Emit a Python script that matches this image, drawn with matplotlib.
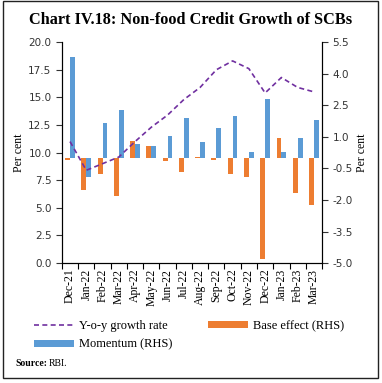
import matplotlib
matplotlib.use("Agg")
import matplotlib.pyplot as plt
import matplotlib.patches as patches
import numpy as np

months = ["Dec-21", "Jan-22", "Feb-22", "Mar-22", "Apr-22", "May-22", "Jun-22", "Jul-22",
          "Aug-22", "Sep-22", "Oct-22", "Nov-22", "Dec-22", "Jan-23", "Feb-23", "Mar-23"]
yoy = [11.0, 8.4, 9.0, 9.6, 11.0, 12.3, 13.4, 14.8, 15.9, 17.5, 18.3, 17.6, 15.4, 16.8, 15.9, 15.5]
base_effect = [-0.08, -1.53, -0.77, -1.79, 0.79, 0.58, -0.13, -0.68,
               0.03, -0.11, -0.77, -0.90, -4.79, 0.95, -1.66, -2.24]
momentum = [4.79, -0.90, 1.66, 2.26, 0.65, 0.58, 1.03, 1.90,
            0.76, 1.42, 1.97, 0.28, 2.78, 0.28, 0.95, 1.80]

serif = "Liberation Serif"
blue = "#5B9BD5"
orange = "#ED7D31"
purple = "#7030A0"

fig = plt.figure(figsize=(3.82, 3.83), dpi=100)
ax = fig.add_axes([0.162, 0.313, 0.681, 0.577])
ax2 = ax.twinx()

x = np.arange(len(months))
w = 0.3
ax2.bar(x - w / 2, base_effect, w, color=orange, label="Base effect (RHS)")
ax2.bar(x + w / 2, momentum, w, color=blue, label="Momentum (RHS)")
ax2.set_ylim(-5.0, 5.5)
ax2.set_yticks(np.arange(-5.0, 5.6, 1.5))
ax2.set_yticklabels(["%.1f" % v for v in np.arange(-5.0, 5.6, 1.5)])

ax.plot(x, yoy, color=purple, linestyle=(0, (3, 2)), linewidth=1.2, label="Y-o-y growth rate")
ax.set_ylim(0, 20)
ax.set_yticks(np.arange(0, 20.1, 2.5))
ax.set_yticklabels(["%.1f" % v for v in np.arange(0, 20.1, 2.5)])
ax.set_zorder(ax2.get_zorder() + 1)
ax.patch.set_visible(False)

ax.set_xlim(-0.5, len(months) - 0.5)
ax.set_xticks(np.arange(-0.5, len(months), 1.0))
ax.set_xticklabels([])
ax.set_xticks(x, minor=True)
ax.set_xticklabels(months, minor=True, rotation=90, fontfamily=serif, fontsize=8.5)
ax.tick_params(axis="x", which="minor", length=0, pad=4)
ax.tick_params(axis="x", which="major", length=4)

for a in (ax, ax2):
    a.spines["top"].set_visible(False)
    a.tick_params(axis="y", labelsize=7.5, length=4, colors="#333333", labelcolor="#333333")

ax.set_ylabel("Per cent", fontfamily=serif, fontsize=8.5, labelpad=2)
ax2.set_ylabel("Per cent", fontfamily=serif, fontsize=8.5, labelpad=2)

h1, l1 = ax.get_legend_handles_labels()
h2, l2 = ax2.get_legend_handles_labels()
handles = [h1[0], h2[1], h2[0]]
labels = [l1[0], l2[1], l2[0]]
fig.legend(handles, labels, ncol=2, loc="upper left", bbox_to_anchor=(0.06, 0.193),
           frameon=False, prop={"family": serif, "size": 9}, handlelength=3.2,
           handleheight=0.5, columnspacing=2.9, labelspacing=0.5, handletextpad=0.35)

fig.text(0.5, 0.947, "Chart IV.18: Non-food Credit Growth of SCBs", ha="center", va="center",
         fontfamily=serif, fontweight="bold", fontsize=11.7)
fig.text(0.04, 0.052, "Source:", fontfamily=serif, fontweight="bold", fontsize=7, va="center")
fig.text(0.128, 0.052, "RBI.", fontfamily=serif, fontsize=7, va="center")

fig.patches.append(patches.Rectangle((0.008, 0.013), 0.982, 0.984, transform=fig.transFigure,
                                     fill=False, edgecolor="#222222", linewidth=1.0))

fig.savefig("out.png", dpi=100)
